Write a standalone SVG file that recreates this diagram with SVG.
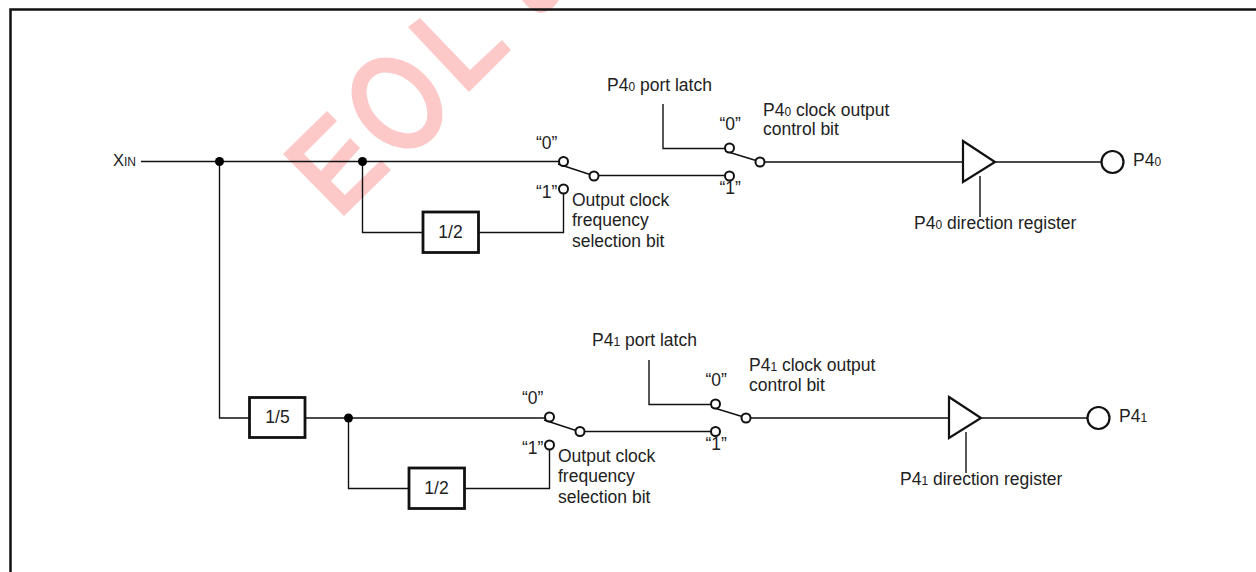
<svg xmlns="http://www.w3.org/2000/svg" width="1256" height="572" viewBox="0 0 1256 572">
<style>
text{font-family:"Liberation Sans",Arial,sans-serif;font-size:17.500px;fill:#222}
.s{font-size:12px}
.w{fill:none;stroke:#111;stroke-width:1.4}
.b{fill:#fff;stroke:#111;stroke-width:2.800}
.t{fill:#fff;stroke:#111;stroke-width:2.200}
.o{fill:#fff;stroke:#111;stroke-width:2}
.d{fill:#000}
.m{fill:#fdc8c8}
</style>
<rect width="1256" height="572" fill="#fff"/>
<g id="watermark">
<path class="m" d="M283 154 L327 111 L337 121 L304 154 L321 171 L350 138 L360 148 L331 181 L345 195 L381 160 L391 170 L344 216 Z"/>
<ellipse cx="397" cy="103" rx="32" ry="43" transform="rotate(-45 397 103)" fill="none" stroke="#fdc8c8" stroke-width="15"/>
<path class="m" d="M408 27 L420 18 L470 70 L502 40 L511 50 L469 92 Z"/>
<path class="m" d="M522 0 L559 0 Q552 12 540 13 Q530 11 522 0 Z"/>
</g>
<g id="frame"><path d="M10.500 572 V9.500 H1256" fill="none" stroke="#111" stroke-width="2.500"/></g>
<g id="connectors" class="w">
<path d="M141 161.500 H559"/><path d="M219.500 161.500 V418 H249"/><path d="M362.500 161.500 V232.500 H423"/><path d="M479 232.500 H563.500 V193"/>
<path d="M558 164 L590 174.500"/><path d="M597 175.500 H725"/><path d="M663 104 V148.500 H725"/><path d="M725 151 L756 160.500"/><path d="M765 162 H963"/><path d="M996 162 H1101"/><path d="M980 176 V217"/>
<path d="M306 418 H545"/><path d="M348.500 418 V488.500 H408"/><path d="M466 488.500 H549.500 V449"/>
<path d="M544 420 L576 430.500"/><path d="M583 431.500 H711"/><path d="M649 360 V404.500 H711"/><path d="M711 407 L742 416.500"/><path d="M751 418 H949"/><path d="M982 418 H1087"/><path d="M966 432 V473"/>
</g>
<g id="dots"><circle class="d" cx="219.500" cy="161.500" r="4.500"/><circle class="d" cx="362.500" cy="161.500" r="4.500"/><circle class="d" cx="348.500" cy="418" r="4.500"/></g>
<g id="xin"><text x="113" y="166" style="font-size:16.500px">X<tspan class="s">IN</tspan></text></g>
<g id="div1"><rect class="b" x="423" y="212" width="55.500" height="40.500"/><text x="450.500" y="238" text-anchor="middle">1/2</text></g>
<g id="div5"><rect class="b" x="249.500" y="397.500" width="55.500" height="40"/><text x="277.500" y="423" text-anchor="middle">1/5</text></g>
<g id="div2"><rect class="b" x="409" y="468" width="55.500" height="40.500"/><text x="436.500" y="494" text-anchor="middle">1/2</text></g>
<g id="sw1">
<circle class="o" cx="563.500" cy="161.500" r="4.500"/><circle class="o" cx="563.500" cy="189" r="4.500"/><circle class="o" cx="594" cy="176" r="4.500"/>
<text x="536" y="149">“0”</text><text x="536" y="198">“1”</text>
<text x="572" y="206">Output clock</text><text x="572" y="226">frequency</text><text x="572" y="247">selection bit</text>
</g>
<g id="sw2">
<circle class="o" cx="729.500" cy="148" r="4.500"/><circle class="o" cx="729.500" cy="176" r="4.500"/><circle class="o" cx="760" cy="162" r="4.500"/>
<text x="719.500" y="130">“0”</text><text x="719.500" y="194">“1”</text>
<text x="607" y="91">P4<tspan class="s">0</tspan> port latch</text>
<text x="763" y="116">P4<tspan class="s">0</tspan> clock output</text><text x="763" y="135">control bit</text>
</g>
<g id="buf1"><path class="t" d="M963 141 L995 162 L963 182 Z"/><text x="914" y="229">P4<tspan class="s">0</tspan> direction register</text></g>
<g id="pin1"><circle class="t" cx="1112.500" cy="162" r="11"/><text x="1133" y="166">P4<tspan class="s">0</tspan></text></g>
<g id="sw3">
<circle class="o" cx="549.500" cy="417" r="4.500"/><circle class="o" cx="549.500" cy="445" r="4.500"/><circle class="o" cx="580" cy="431.500" r="4.500"/>
<text x="522" y="404">“0”</text><text x="522" y="454">“1”</text>
<text x="558" y="462">Output clock</text><text x="558" y="482">frequency</text><text x="558" y="503">selection bit</text>
</g>
<g id="sw4">
<circle class="o" cx="715.500" cy="404" r="4.500"/><circle class="o" cx="715.500" cy="431.500" r="4.500"/><circle class="o" cx="746" cy="418" r="4.500"/>
<text x="705.500" y="386">“0”</text><text x="705.500" y="450">“1”</text>
<text x="592" y="346">P4<tspan class="s">1</tspan> port latch</text>
<text x="749" y="371">P4<tspan class="s">1</tspan> clock output</text><text x="749" y="391">control bit</text>
</g>
<g id="buf2"><path class="t" d="M949 397 L981 418 L949 438 Z"/><text x="900" y="485">P4<tspan class="s">1</tspan> direction register</text></g>
<g id="pin2"><circle class="t" cx="1098.500" cy="418" r="11"/><text x="1119" y="422">P4<tspan class="s">1</tspan></text></g>
</svg>
